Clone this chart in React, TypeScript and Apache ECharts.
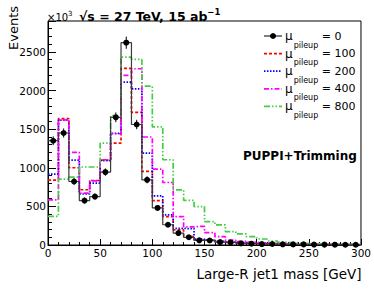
import React, { useEffect, useRef } from 'react';
import * as echarts from 'echarts';

// Bin lower edges [GeV], 10 GeV wide bins
const binStarts = [0, 10, 20, 30, 40, 50, 60, 70, 80, 90, 100, 110, 120, 130, 140, 150, 160, 170, 180, 190, 200, 210, 220, 230, 240, 250, 260, 270, 280, 290];
const BIN_WIDTH = 10;

const pileupNames = ['0', '100', '200', '400', '800'];

const mu0 = [1350, 1450, 822, 575, 627, 944, 1653, 2619, 1560, 844, 480, 262, 155, 100, 60, 58, 37, 33, 20, 17, 12, 13, 9, 8, 8, 6, 5, 4, 3, 3];
const mu0Err = [57, 59, 44, 37, 39, 48, 63, 79, 61, 45, 34, 25, 19, 16, 12, 12, 9, 9, 7, 6, 5, 5, 5, 4, 4, 4, 3, 3, 3, 3];
const mu100 = [840, 1636, 1000, 715, 835, 1100, 1320, 2286, 1718, 952, 575, 368, 195, 110, 65, 60, 45, 35, 27, 22, 18, 15, 12, 10, 8, 7, 6, 5, 4, 4];
const mu200 = [918, 1615, 1100, 660, 801, 1091, 1446, 2108, 2022, 1190, 636, 390, 216, 212, 75, 62, 48, 38, 30, 24, 20, 16, 13, 11, 9, 8, 7, 6, 5, 4];
const mu400 = [584, 1620, 1200, 671, 831, 1104, 1440, 2195, 2282, 1398, 983, 809, 368, 235, 240, 160, 108, 62, 46, 36, 28, 22, 18, 15, 12, 10, 8, 7, 6, 5];
const mu800 = [370, 853, 880, 1010, 1010, 1320, 1675, 2432, 2403, 2056, 1530, 1104, 714, 578, 498, 303, 260, 173, 143, 108, 78, 52, 36, 28, 22, 18, 14, 11, 8, 6];

const X_MIN = 0;
const X_MAX = 300;
const Y_MAX = 2900;

const FONT = 'DejaVu Sans';

function histData(vals: number[]) {
  const n = vals.length;
  const out: any[] = [{ value: [binStarts[0], vals[0]], symbol: 'none' }];
  vals.forEach((v, i) => out.push([binStarts[i] + BIN_WIDTH / 2, v]));
  out.push({ value: [binStarts[n - 1] + BIN_WIDTH, vals[n - 1]], symbol: 'none' });
  return out;
}

const seriesStyles = [
  { color: '#000000', line: '#3a3a3a', dash: null as any, width: 1.2 },
  { color: '#ff0000', line: '#ff0000', dash: [3, 2], width: 1.7 },
  { color: '#0000ff', line: '#0000ff', dash: [1.5, 1.5], width: 1.7 },
  { color: '#ff00ff', line: '#ff00ff', dash: [5, 2, 1.5, 2], width: 1.7 },
  { color: '#44cc44', line: '#44cc44', dash: [6, 2, 1.5, 2, 1.5, 2], width: 1.7 },
];

const allValues = [mu0, mu100, mu200, mu400, mu800];

// legend layout
const LEG_X = 264;
const LEG_LINE_W = 18;
const LEG_TOP = 36;
const LEG_STEP = 17.6;

export default function App() {
  const ref = useRef<HTMLDivElement>(null);
  useEffect(() => {
    const chart = echarts.init(ref.current!, null, { renderer: 'svg' });

    const histSeries: any[] = allValues.map((vals, k) => ({
      type: 'line',
      name: pileupNames[k],
      step: 'middle',
      data: histData(vals),
      symbol: k === 0 ? 'circle' : 'none',
      symbolSize: 6,
      showSymbol: k === 0,
      showAllSymbol: true,
      itemStyle: { color: seriesStyles[k].color },
      lineStyle: { color: seriesStyles[k].line, type: seriesStyles[k].dash || 'solid', width: seriesStyles[k].width },
      z: k === 0 ? 5 : 2,
      silent: true,
    }));

    const errSeries = {
      type: 'custom',
      name: 'err',
      z: 6,
      encode: { x: 0, y: [1, 2] },
      data: mu0.map((v, i) => [binStarts[i] + BIN_WIDTH / 2, v - mu0Err[i], v + mu0Err[i]]),
      renderItem: (_params: any, api: any) => {
        const p1 = api.coord([api.value(0), api.value(1)]);
        const p2 = api.coord([api.value(0), api.value(2)]);
        return {
          type: 'line',
          shape: { x1: p1[0], y1: p1[1], x2: p2[0], y2: p2[1] },
          style: { stroke: '#000', lineWidth: 1 },
        };
      },
    };

    const legendEls: any[] = [];
    pileupNames.forEach((name, k) => {
      const cy = LEG_TOP + k * LEG_STEP;
      const st = seriesStyles[k];
      legendEls.push({
        type: 'line',
        shape: { x1: LEG_X, y1: cy, x2: LEG_X + LEG_LINE_W, y2: cy },
        style: { stroke: st.line, lineWidth: k === 0 ? 1.3 : st.width, lineDash: st.dash || undefined },
      });
      if (k === 0) {
        legendEls.push({ type: 'circle', shape: { cx: LEG_X + LEG_LINE_W / 2, cy, r: 3 }, style: { fill: '#000' } });
      }
      legendEls.push({
        type: 'text',
        x: LEG_X + LEG_LINE_W + 3,
        y: cy,
        style: {
          text: `{mu|μ}{sub|pileup}{eq| = ${name}}`,
          align: 'left',
          verticalAlign: 'middle',
          fill: '#000',
          rich: {
            mu: { fontSize: 12, lineHeight: 14, fontFamily: FONT, verticalAlign: 'middle' },
            sub: { fontSize: 8, lineHeight: 14, fontFamily: FONT, verticalAlign: 'middle', padding: [18, 0, 0, 1] },
            eq: { fontSize: 11, lineHeight: 14, fontFamily: FONT, verticalAlign: 'middle' },
          },
        },
      });
    });

    const option: any = {
      animation: false,
      backgroundColor: '#ffffff',
      grid: { left: 48, right: 13, top: 21, bottom: 45, show: true, borderColor: '#000', borderWidth: 1 },
      xAxis: {
        type: 'value',
        min: X_MIN,
        max: X_MAX,
        interval: 50,
        axisLine: { show: true, lineStyle: { color: '#000', width: 1 } },
        axisTick: { show: true, inside: true, length: 6, lineStyle: { color: '#000' } },
        minorTick: { show: true, splitNumber: 5, length: 3, lineStyle: { color: '#000' } },
        splitLine: { show: false },
        axisLabel: { color: '#000', fontFamily: FONT, fontSize: 10.5, margin: 2, formatter: (v: number) => String(v) },
      },
      yAxis: {
        type: 'value',
        min: 0,
        max: Y_MAX,
        interval: 500,
        axisLine: { show: true, lineStyle: { color: '#000', width: 1 } },
        axisTick: { show: true, inside: true, length: 8, lineStyle: { color: '#000' } },
        minorTick: { show: true, splitNumber: 5, length: 4, lineStyle: { color: '#000' } },
        splitLine: { show: false },
        axisLabel: { color: '#000', fontFamily: FONT, fontSize: 10.5, margin: 2, showMaxLabel: false, formatter: (v: number) => String(v) },
      },
      graphic: [
        {
          type: 'text',
          x: 79,
          y: 16,
          style: {
            text: '{b|√s = 27 TeV, 15 ab}{sup|−1}',
            align: 'left',
            verticalAlign: 'middle',
            fill: '#000',
            rich: {
              b: { fontSize: 12.5, fontWeight: 'bold', fontFamily: FONT, lineHeight: 15, verticalAlign: 'middle' },
              sup: { fontSize: 8.5, fontWeight: 'bold', fontFamily: FONT, lineHeight: 15, verticalAlign: 'middle', padding: [0, 0, 9, 0] },
            },
          },
        },
        {
          type: 'text',
          x: 47,
          y: 17,
          style: {
            text: '{a|×10}{s|3}',
            align: 'left',
            verticalAlign: 'middle',
            fill: '#000',
            rich: {
              a: { fontSize: 10, fontFamily: FONT, lineHeight: 12, verticalAlign: 'middle' },
              s: { fontSize: 7, fontFamily: FONT, lineHeight: 12, verticalAlign: 'middle', padding: [0, 0, 7, 0] },
            },
          },
        },
        {
          type: 'text',
          x: 13.5,
          y: 50,
          rotation: Math.PI / 2,
          style: { text: 'Events', align: 'left', verticalAlign: 'middle', fill: '#000', fontSize: 13, fontFamily: FONT },
        },
        {
          type: 'text',
          x: 361.5,
          y: 273.5,
          style: { text: 'Large-R jet1 mass [GeV]', align: 'right', verticalAlign: 'middle', fill: '#000', fontSize: 13.5, fontFamily: FONT },
        },
        {
          type: 'text',
          x: 243,
          y: 156,
          style: { text: 'PUPPI+Trimming', align: 'left', verticalAlign: 'middle', fill: '#000', fontSize: 12, fontWeight: 'bold', fontFamily: FONT },
        },
        ...legendEls,
      ],
      series: [...histSeries, errSeries],
    };

    chart.setOption(option);
    return () => chart.dispose();
  }, []);

  return <div ref={ref} style={{ position: 'absolute', left: 0, top: 0, width: 374, height: 290 }} />;
}
